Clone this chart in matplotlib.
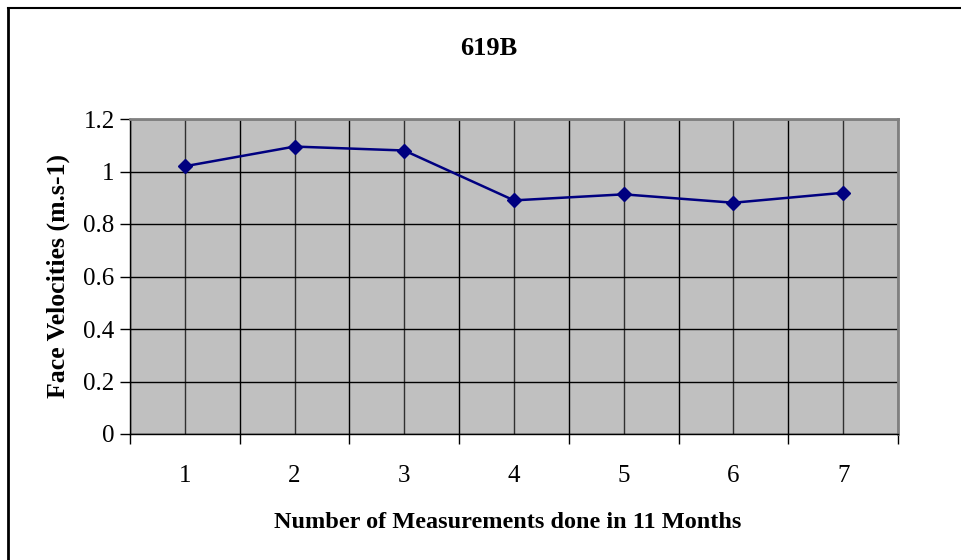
import numpy as np
import matplotlib.pyplot as plt
from matplotlib.lines import Line2D

# Face velocity readings for hood 619B
measurements = [1, 2, 3, 4, 5, 6, 7]
velocities = [1.02, 1.095, 1.08, 0.89, 0.913, 0.881, 0.919]
yticks = [0, 0.2, 0.4, 0.6, 0.8, 1.0, 1.2]
ytick_labels = ['0', '0.2', '0.4', '0.6', '0.8', '1', '1.2']

plt.rcParams['font.family'] = ['Liberation Serif', 'DejaVu Serif']

fig = plt.figure(figsize=(9.61, 5.6), dpi=100)
ax = fig.add_axes([130/961, 1-434/560, 768/961, 315/560])
ax.set_facecolor('#c0c0c0')

x = np.arange(len(measurements))
ax.plot(x, velocities, color='#000080', lw=1.8, marker='D', ms=7,
        mfc='#000080', mec='#000080', zorder=3)

ax.set_xlim(-0.5, len(measurements) - 0.5)
ax.set_ylim(0, 1.2)

# gridlines at category centres and boundaries
for c in x:
    ax.axvline(c, color='#303030', lw=1.0, zorder=1)
for b in np.arange(-0.5, len(measurements), 1.0):
    ax.axvline(b, color='black', lw=1.0, zorder=1)
for v in yticks:
    ax.axhline(v, color='black', lw=1.0, zorder=1)

ax.set_yticks(yticks)
ax.set_yticklabels(ytick_labels)
ax.set_xticks(np.arange(-0.5, len(measurements), 1.0))
ax.set_xticklabels([])
ax.set_xticks(x, minor=True)
ax.set_xticklabels([str(m) for m in measurements], minor=True)
ax.tick_params(axis='x', which='major', direction='out', length=7, width=1)
ax.tick_params(axis='x', which='minor', length=0, pad=22, labelsize=18)
ax.tick_params(axis='y', direction='out', length=7, width=1, labelsize=18, pad=4)

for side in ['top', 'right']:
    ax.spines[side].set_color('#808080')
    ax.spines[side].set_linewidth(2)
for side in ['left', 'bottom']:
    ax.spines[side].set_color('black')
    ax.spines[side].set_linewidth(1)

ax.set_title('619B', fontsize=19, fontweight='bold', pad=46, x=0.467)
ax.set_xlabel('Number of Measurements done in 11 Months', fontsize=17.5,
              fontweight='bold', labelpad=18, x=0.492)
ax.set_ylabel('Face Velocities (m.s-1)', fontsize=18.5, fontweight='bold',
              labelpad=10)

# outer chart border
fig.add_artist(Line2D([8/961, 8/961], [0, 1-8/560], color='black', lw=2,
                      transform=fig.transFigure))
fig.add_artist(Line2D([8/961, 1], [1-8/560, 1-8/560], color='black', lw=1.5,
                      transform=fig.transFigure))

fig.savefig('out.png', dpi=100)
